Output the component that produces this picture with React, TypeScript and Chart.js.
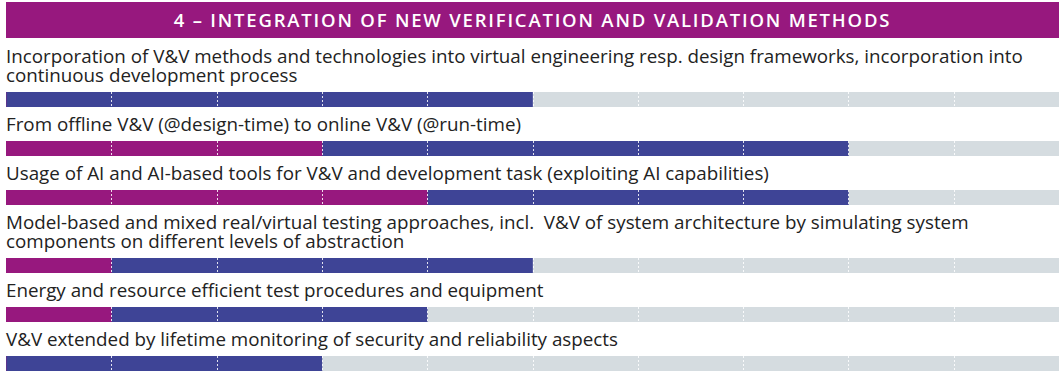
import React, { useEffect, useRef } from "react";
import { Chart, registerables } from "chart.js";

Chart.register(...registerables);

const title = "4 – INTEGRATION OF NEW VERIFICATION AND VALIDATION METHODS";

const categories: string[][] = [
  [
    "Incorporation of V&V methods and technologies into virtual engineering resp. design frameworks, incorporation into",
    "continuous development process",
  ],
  ["From offline V&V (@design-time) to online V&V (@run-time)"],
  ["Usage of AI and AI-based tools for V&V and development task (exploiting AI capabilities)"],
  [
    "Model-based and mixed real/virtual testing approaches, incl.  V&V of system architecture by simulating system",
    "components on different levels of abstraction",
  ],
  ["Energy and resource efficient test procedures and equipment"],
  ["V&V extended by lifetime monitoring of security and reliability aspects"],
];

const purpleSegments = [0, 3, 4, 1, 1, 0];
const blueSegments = [5, 5, 4, 4, 3, 3];
const greySegments = [5, 2, 2, 5, 6, 7];
const scaleTicks = [1, 2, 3, 4, 5, 6, 7, 8, 9];

const PURPLE = "#97187e";
const BLUE = "#3e4496";
const GREY = "#d5dce0";

const separatorPlugin = {
  id: "separators",
  afterDatasetsDraw(chart: any) {
    const { ctx, chartArea, scales } = chart;
    ctx.save();
    ctx.strokeStyle = "rgba(255,255,255,0.85)";
    ctx.lineWidth = 1;
    ctx.setLineDash([2, 2]);
    scaleTicks.forEach((t) => {
      const x = Math.round(scales.x.getPixelForValue(t)) + 0.5;
      ctx.beginPath();
      ctx.moveTo(x, chartArea.top);
      ctx.lineTo(x, chartArea.bottom);
      ctx.stroke();
    });
    ctx.restore();
  },
};

function BarRow({ index }: { index: number }) {
  const ref = useRef<HTMLCanvasElement | null>(null);
  useEffect(() => {
    if (!ref.current) return;
    const chart = new Chart(ref.current, {
      type: "bar",
      data: {
        labels: [""],
        datasets: [
          { data: [purpleSegments[index]], backgroundColor: PURPLE, borderWidth: 0 },
          { data: [blueSegments[index]], backgroundColor: BLUE, borderWidth: 0 },
          { data: [greySegments[index]], backgroundColor: GREY, borderWidth: 0 },
        ],
      },
      options: {
        indexAxis: "y",
        animation: false,
        responsive: false,
        devicePixelRatio: 1,
        layout: { padding: 0 },
        datasets: { bar: { barPercentage: 1, categoryPercentage: 1 } },
        scales: {
          x: { stacked: true, min: 0, max: 10, display: false },
          y: { stacked: true, display: false },
        },
        plugins: { legend: { display: false }, tooltip: { enabled: false } },
      } as any,
      plugins: [separatorPlugin],
    });
    return () => chart.destroy();
  }, [index]);
  return (
    <canvas
      ref={ref}
      width={1053}
      height={15}
      style={{ display: "block", width: 1053, height: 15, marginTop: 7 }}
    />
  );
}

export default function App() {
  return (
    <div
      style={{
        position: "absolute",
        left: 0,
        top: 0,
        width: 1059,
        height: 371,
        overflow: "hidden",
        background: "#ffffff",
        fontFamily: "'Open Sans', sans-serif",
      }}
    >
      <div
        style={{
          position: "absolute",
          left: 6,
          top: 2,
          width: 1053,
          height: 36,
          background: PURPLE,
          color: "#ffffff",
          fontSize: 18.5,
          fontWeight: 600,
          letterSpacing: 1.8,
          lineHeight: "36px",
          textAlign: "center",
          whiteSpace: "nowrap",
        }}
      >
        {title}
      </div>
      <div style={{ position: "absolute", left: 6, top: 39, width: 1053 }}>
        {categories.map((lines, i) => (
          <div key={i} style={{ paddingTop: 8 }}>
            <div style={{ fontSize: 18.8, lineHeight: "19px", color: "#222222", whiteSpace: "pre" }}>
              {lines.map((l, j) => (
                <div key={j}>{l}</div>
              ))}
            </div>
            <BarRow index={i} />
          </div>
        ))}
      </div>
    </div>
  );
}
